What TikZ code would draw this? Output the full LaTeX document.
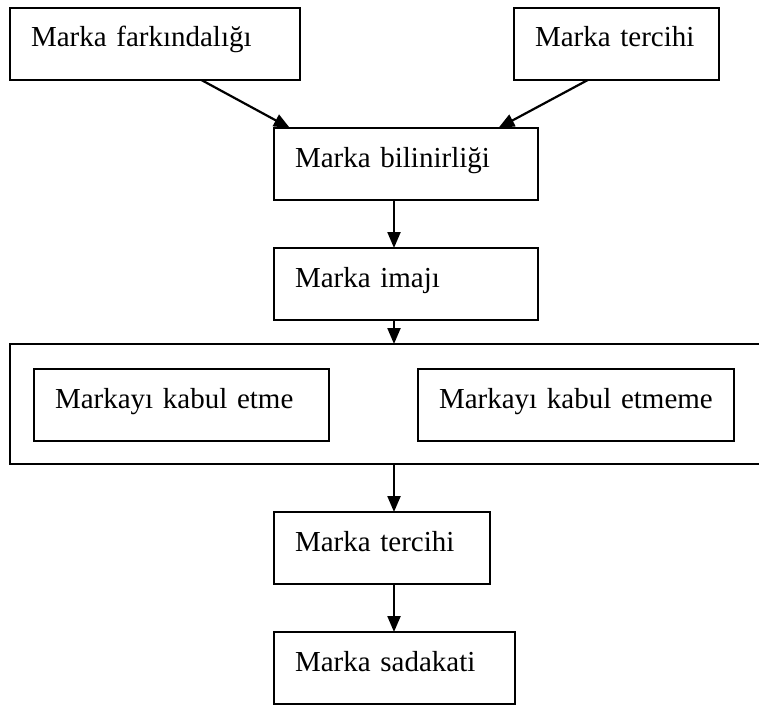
\documentclass[tikz,border=0pt]{standalone}
\usepackage{fontspec}
\setmainfont{Liberation Serif}
\usetikzlibrary{positioning}
\usetikzlibrary{arrows.meta}
\usetikzlibrary{calc}
\tikzset{>=latex}
\colorlet{myblack}{black}
\tikzstyle{mybox}=[draw,#1,line width=2pt,inner xsep=21pt,inner ysep=5pt,outer sep=0pt,
                   text height=34pt,text depth=28pt,align=left,anchor=north west,
                   font=\fontsize{29}{35}\selectfont]
\tikzstyle{myframe}=[draw,#1,line width=2pt,inner sep=0pt,outer sep=0pt,anchor=north west]
\tikzstyle{myarrow}=[-{Triangle[length=16pt,width=13pt]},#1,line width=2.2pt]

\begin{document}
\begin{tikzpicture}[x=1pt,y=-1pt]
  \useasboundingbox (0,0) rectangle (759,706);
  \def\h{48} % vertical gap between rows
  \coordinate (axis) at (394,0); % main vertical flow

  % 0
  \node[mybox=myblack,text width=248pt] (aware) at (10,8) {Marka farkındalığı};

  % 1
  \node[mybox=myblack,text width=163pt] (pref0) at (514,8) {Marka tercihi};

  % 2
  \node[mybox=myblack,text width=222pt] (known) at (274,128) {Marka bilinirliği};
  \draw[myarrow=myblack] ($(aware.south west)!0.66!(aware.south east)$)
    -- ($(known.north west)!0.06!(known.north east)$);
  \draw[myarrow=myblack] ($(pref0.south west)!0.36!(pref0.south east)$)
    -- ($(known.north west)!0.85!(known.north east)$);

  % 3
  \path (known.south west)++(0,\h) node[mybox=myblack,text width=222pt] (image) {Marka imajı};
  \draw[myarrow=myblack] (known.south -| axis) -- (image.north -| axis);

  % 4
  \node[myframe=myblack,minimum width=770pt,minimum height=120pt] (accept) at (10,344) {};
  \draw[myarrow=myblack] (image.south -| axis) -- (accept.north -| axis);

  % 40
  \path (accept.north west)++(24,25) node[mybox=myblack,text width=253pt] (yes) {Markayı kabul etme};

  % 41
  \path (accept.north west)++(408,25) node[mybox=myblack,text width=274pt] (no) {Markayı kabul etmeme};

  % 5
  \path (accept.south west)++(264,\h) node[mybox=myblack,text width=174pt] (pref1) {Marka tercihi};
  \draw[myarrow=myblack] (accept.south -| axis) -- (pref1.north -| axis);

  % 6
  \path (pref1.south west)++(0,\h) node[mybox=myblack,text width=199pt] (loyal) {Marka sadakati};
  \draw[myarrow=myblack] (pref1.south -| axis) -- (loyal.north -| axis);

\end{tikzpicture}
\end{document}
